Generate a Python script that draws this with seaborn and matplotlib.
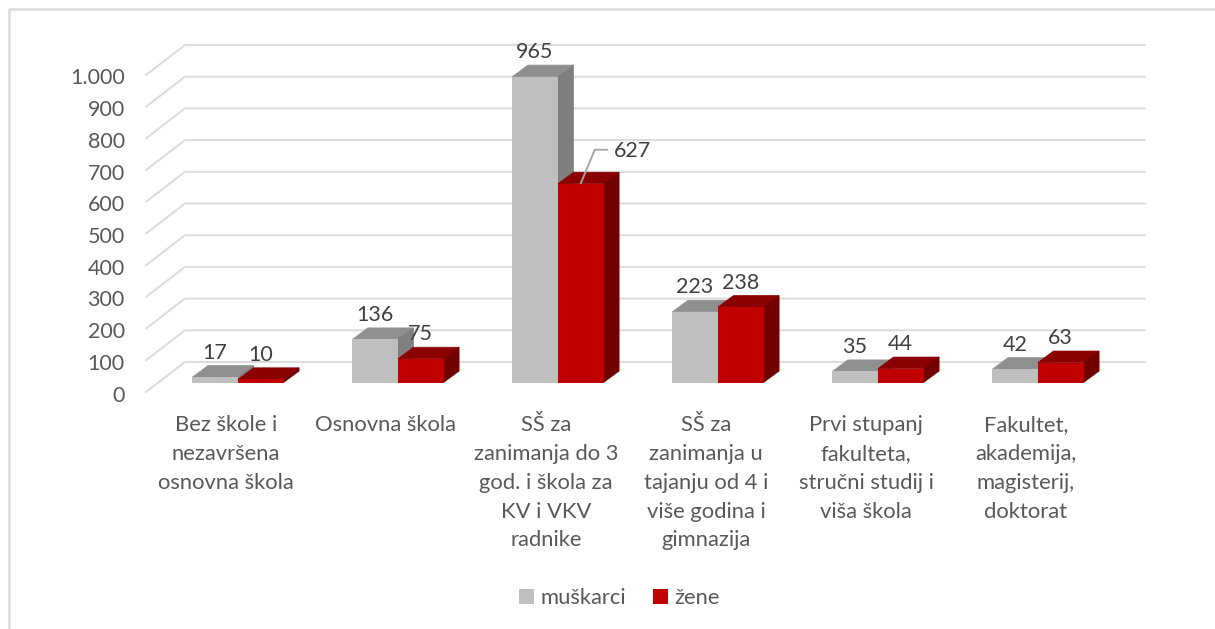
import pandas as pd
import matplotlib
matplotlib.use('Agg')
import matplotlib.pyplot as plt
import seaborn as sns
from matplotlib.lines import Line2D
from matplotlib.patches import Polygon
from matplotlib.transforms import ScaledTranslation

# Data
categories = [
    'Bez škole i\nnezavršena\nosnovna škola',
    'Osnovna škola',
    'SŠ za\nzanimanja do 3\ngod. i škola za\nKV i VKV\nradnike',
    'SŠ za\nzanimanja u\ntajanju od 4 i\nviše godina i\ngimnazija',
    'Prvi stupanj\nfakulteta,\nstručni studij i\nviša škola',
    'Fakultet,\nakademija,\nmagisterij,\ndoktorat',
]
muskarci = [17, 136, 965, 223, 35, 42]
zene = [10, 75, 627, 238, 44, 63]
series_names = ['muškarci', 'žene']
y_ticks = [0, 100, 200, 300, 400, 500, 600, 700, 800, 900, 1000]
y_tick_labels = ['0', '100', '200', '300', '400', '500', '600', '700', '800', '900', '1.000']

W, H = 1215, 629
TEXT = '#595959'
GRID = '#dcdcdc'
FRONT = {'muškarci': '#bfbfbf', 'žene': '#c00000'}
TOP = {'muškarci': '#8f8f8f', 'žene': '#8b0000'}
SIDE = {'muškarci': '#7f7f7f', 'žene': '#730000'}

sns.set_theme(style='white')
plt.rcParams['font.family'] = ['Lato', 'DejaVu Sans']

df = pd.DataFrame({
    'kategorija': categories * 2,
    'spol': [series_names[0]] * 6 + [series_names[1]] * 6,
    'broj': muskarci + zene,
})

fig = plt.figure(figsize=(W / 100, H / 100), dpi=100)
# the axes sit on the plane of the bar fronts, the walls are offset from it
ax = fig.add_axes([158 / W, 1 - 382.5 / H, 960 / W, 317 / H])
sns.barplot(data=df, x='kategorija', y='broj', hue='spol', hue_order=series_names,
            palette=FRONT, width=0.57, gap=0, saturation=1, linewidth=0, ax=ax, zorder=3)
ax.set_xlim(-0.5, 5.5)
ax.set_ylim(0, 1000)
ax.set_xlabel('')
ax.set_ylabel('')
sns.despine(ax=ax, left=True, bottom=True)

# pixels to data units
px_x = 6 / 960
px_y = 1000 / 317

# gridlines: front-left end, back wall corner, back wall right end
for v in y_ticks:
    ax.plot([-12 * px_x - 0.5, 27 * px_x - 0.5, 27 * px_x + 5.5],
            [v - 9.5 * px_y, v + 20.5 * px_y, v + 20.5 * px_y],
            color=GRID, lw=1.5, clip_on=False, zorder=1)

# 3D faces built from the bars that seaborn drew
dx = 15.5 * px_x
dy = 11.5 * px_y
for name, container in zip(series_names, ax.containers):
    z = 3 if name == series_names[0] else 4
    for bar in container:
        x0 = bar.get_x()
        x1 = x0 + bar.get_width()
        h = bar.get_height()
        bar.set_zorder(z + 0.2)
        ax.add_patch(Polygon([(x0, h), (x1, h), (x1 + dx, h + dy), (x0 + dx, h + dy)],
                             closed=True, fc=TOP[name], ec=TOP[name], lw=0.5,
                             clip_on=False, zorder=z))
        ax.add_patch(Polygon([(x1, 0), (x1 + dx, dy), (x1 + dx, h + dy), (x1, h)],
                             closed=True, fc=SIDE[name], ec=SIDE[name], lw=0.5,
                             clip_on=False, zorder=z))
        if h == 627:
            # this label was moved aside with a leader line
            cx = (x0 + x1) / 2
            ax.plot([cx, cx + 14 * px_x, cx + 26.5 * px_x],
                    [h + 0.5 * px_y, h + 34 * px_y, h + 34 * px_y],
                    color='#a6a6a6', lw=1.4, clip_on=False, zorder=6)
            ax.annotate(f'{h:.0f}', (cx, h), xytext=(52, 33), textcoords='offset pixels',
                        ha='center', va='center', fontsize=15.5, color='#404040', zorder=7)
        else:
            ax.annotate(f'{h:.0f}', ((x0 + x1) / 2, h), xytext=(-0.5, 24.5),
                        textcoords='offset pixels', ha='center', va='center',
                        fontsize=15.5, color='#404040', zorder=7)

# tick labels belong to the front edge of the floor and wall
ax.set_yticks(y_ticks)
ax.set_yticklabels(y_tick_labels)
ax.tick_params(axis='y', length=0, pad=24, labelsize=15.5, labelcolor=TEXT)
ax.tick_params(axis='x', length=0, pad=23.5, labelsize=15.8, labelcolor=TEXT)
shift_y = ScaledTranslation(0, -11 / 100, fig.dpi_scale_trans)
shift_x = ScaledTranslation(-12 / 100, 0, fig.dpi_scale_trans)
for t in ax.get_yticklabels():
    t.set_transform(t.get_transform() + shift_y)
for t in ax.get_xticklabels():
    t.set_transform(t.get_transform() + shift_x)
    t.set_linespacing(1.55)
    t.set_ha('center')

handles, labels = ax.get_legend_handles_labels()
ax.legend(handles, labels, loc='center', bbox_to_anchor=(619.5 / W, 1 - 598 / H),
          bbox_transform=fig.transFigure, ncol=2, frameon=False, fontsize=15.8,
          labelcolor=TEXT, handlelength=0.65, handleheight=0.65, handletextpad=0.3,
          columnspacing=1.25)

# chart frame, only top and left are inside the crop
fig.add_artist(Line2D([9 / W, 9 / W, 1], [0, 1 - 9 / H, 1 - 9 / H], color=GRID, lw=1.8))

fig.savefig('out.png', dpi=100, facecolor='white')
